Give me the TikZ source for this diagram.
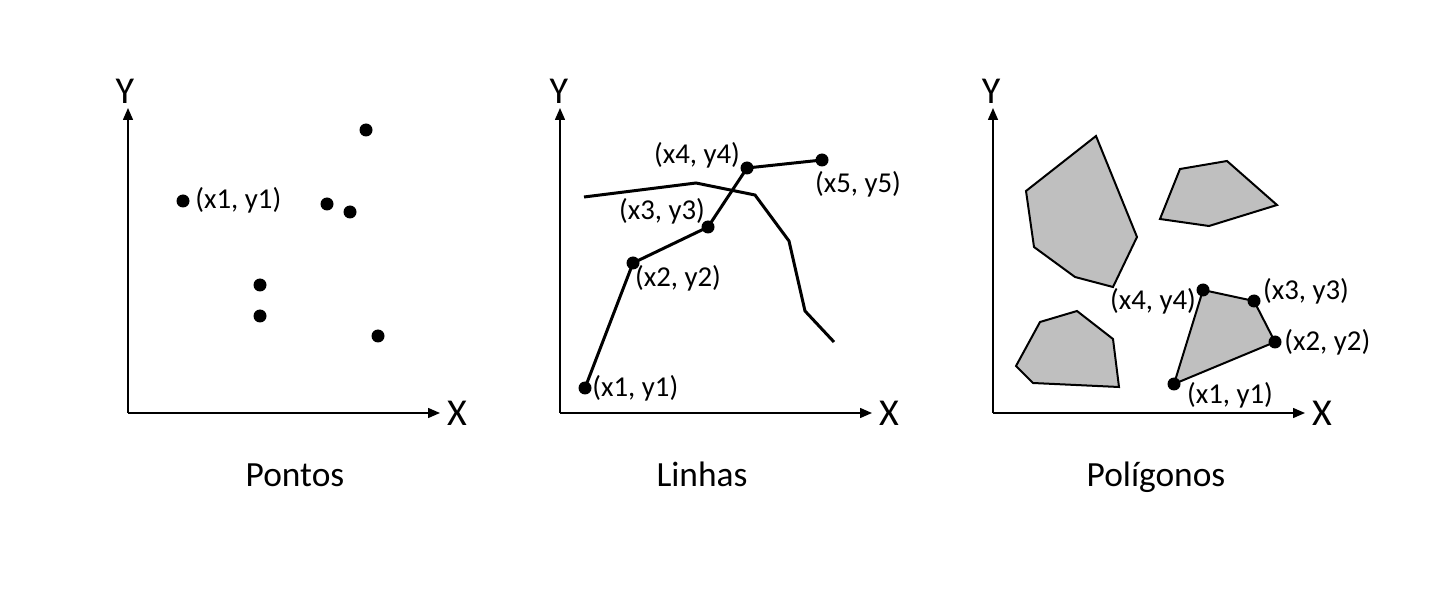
\documentclass[tikz,border=0pt]{standalone}
\usepackage{fontspec}
\setmainfont{Carlito}
\usetikzlibrary{arrows.meta}
\begin{document}
\begin{tikzpicture}[x=0.5pt,y=-0.5pt,
  axis/.style={line width=0.75pt,-{Triangle[length=6pt,width=5pt]}},
  dot/.style={circle,fill=black,inner sep=0pt,minimum size=6.5pt},
  lbl/.style={font=\fontsize{14.4}{17}\selectfont,inner sep=0pt},
  axlbl/.style={font=\fontsize{19}{22}\selectfont,inner sep=0pt},
  title/.style={font=\fontsize{17.7}{21}\selectfont,inner sep=0pt,anchor=base},
  pline/.style={line width=1.5pt,line join=miter},
  poly/.style={draw=black,fill=gray!50!white,line width=1pt,line join=miter}]
\useasboundingbox (0,0) rectangle (1452,609);
% ---------- Panel 1 ----------
\coordinate (o1) at (128,413);
\coordinate (yt1) at (128,108);
\coordinate (xe1) at (440,413);
\draw[axis] (o1) -- (yt1);
\draw[axis] (o1) -- (xe1);
\node[axlbl] (Y1) at (125,91) {Y};
\node[axlbl] (X1) at (457,413) {X};
\node[dot] (p1) at (183,201) {};
\node[lbl,anchor=west] (p1l) at (195,200) {(x1, y1)};
\node[dot] (p2) at (366,130) {};
\node[dot] (p3) at (327,204) {};
\node[dot] (p4) at (350,212) {};
\node[dot] (p5) at (260,285) {};
\node[dot] (p6) at (260,316) {};
\node[dot] (p7) at (378,336) {};
\node[title] (t1) at (295,487) {Pontos};
% ---------- Panel 2 ----------
\coordinate (o2) at (560,413);
\coordinate (yt2) at (560,108);
\coordinate (xe2) at (872,413);
\draw[axis] (o2) -- (yt2);
\draw[axis] (o2) -- (xe2);
\node[axlbl] (Y2) at (559,91) {Y};
\node[axlbl] (X2) at (889,413) {X};
\coordinate (m1) at (584,197);
\coordinate (m2) at (696,183);
\coordinate (m3) at (755,195);
\coordinate (m4) at (789,241);
\coordinate (m5) at (805,311);
\coordinate (m6) at (834,342);
\draw[pline] (m1) -- (m2) -- (m3) -- (m4) -- (m5) -- (m6);
\node[dot] (l1) at (585,388) {};
\node[dot] (l2) at (633,263) {};
\node[dot] (l3) at (708,227) {};
\node[dot] (l4) at (747,168) {};
\node[dot] (l5) at (822,160) {};
\draw[pline] (l1.center) -- (l2.center) -- (l3.center) -- (l4.center) -- (l5.center);
\node[lbl,anchor=west] (l1l) at (592,388) {(x1, y1)};
\node[lbl] (l2l) at (678,278) {(x2, y2)};
\node[lbl] (l3l) at (662,211) {(x3, y3)};
\node[lbl] (l4l) at (697,155) {(x4, y4)};
\node[lbl] (l5l) at (858,184) {(x5, y5)};
\node[title] (t2) at (702,487) {Linhas};
% ---------- Panel 3 ----------
\coordinate (o3) at (993,413);
\coordinate (yt3) at (993,108);
\coordinate (xe3) at (1305,413);
\draw[axis] (o3) -- (yt3);
\draw[axis] (o3) -- (xe3);
\node[axlbl] (Y3) at (991,91) {Y};
\node[axlbl] (X3) at (1322,413) {X};
\draw[poly] (1026,191) -- (1096,136) -- (1137,237) -- (1113,287) -- (1075,277) -- (1034,247) -- cycle;
\draw[poly] (1180,169) -- (1227,161) -- (1277,205) -- (1209,226) -- (1160,219) -- cycle;
\draw[poly] (1040,322) -- (1077,311) -- (1113,339) -- (1119,387) -- (1033,383) -- (1016,366) -- cycle;
\coordinate (g1) at (1174,384);
\coordinate (g2) at (1275,342);
\coordinate (g3) at (1254,301);
\coordinate (g4) at (1203,290);
\draw[poly] (g1) -- (g2) -- (g3) -- (g4) -- cycle;
\node[dot] (d1) at (g1) {};
\node[dot] (d2) at (g2) {};
\node[dot] (d3) at (g3) {};
\node[dot] (d4) at (g4) {};
\node[lbl] (g1l) at (1230,395) {(x1, y1)};
\node[lbl,anchor=west] (g2l) at (1284,342) {(x2, y2)};
\node[lbl] (g3l) at (1306,291) {(x3, y3)};
\node[lbl] (g4l) at (1153,301) {(x4, y4)};
\node[title] (t3) at (1156,487) {Polígonos};
\end{tikzpicture}
\end{document}
